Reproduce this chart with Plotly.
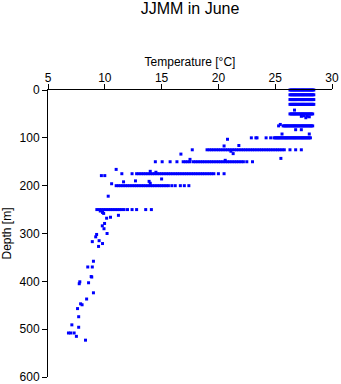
import plotly.graph_objects as go

# ---- data: temperature (deg C) observed at each depth level (m) ----
t_000 = [26.3, 26.4, 26.5, 26.6, 26.7, 26.8, 26.9, 27.0, 27.1, 27.2, 27.3, 27.4,
         27.5, 27.6, 27.7, 27.8, 27.9, 28.0, 28.1, 28.2, 28.3, 28.4]
t_010 = [26.3, 26.4, 26.5, 26.6, 26.7, 26.8, 26.9, 27.0, 27.1, 27.2, 27.3, 27.4,
         27.5, 27.6, 27.7, 27.8, 27.9, 28.0, 28.1, 28.2, 28.3, 28.4]
t_020 = [26.3, 26.4, 26.5, 26.6, 26.7, 26.8, 26.9, 27.0, 27.1, 27.2, 27.3, 27.4,
         27.5, 27.6, 27.7, 27.8, 27.9, 28.0, 28.1, 28.2, 28.3, 28.4]
t_030 = [26.3, 26.4, 26.5, 26.6, 26.7, 26.8, 26.9, 27.0, 27.1, 27.2, 27.3, 27.4,
         27.5, 27.6, 27.7, 27.8, 27.9, 28.0, 28.1, 28.2, 28.3, 28.4]
t_050 = [26.3, 26.4, 26.5, 26.6, 26.7, 26.8, 26.9, 27.0, 27.1, 27.2, 27.3, 27.4,
         27.5, 27.6, 27.7, 27.8, 27.9, 28.0, 28.1, 28.2, 28.3]
t_075 = [25.3, 25.7, 25.8, 25.9, 26.0, 26.1, 26.2, 26.3, 26.4, 26.5, 26.6, 26.7,
         26.8, 26.9, 27.0, 27.1, 27.2, 27.3, 27.4, 27.5, 27.6, 27.7, 27.8, 27.9,
         28.0, 28.1, 28.2, 28.3]
t_100 = [22.9, 23.3, 23.4, 24.2, 24.6, 24.9, 25.0, 25.1, 25.2, 25.3, 25.4, 25.5,
         25.6, 25.7, 25.8, 25.9, 26.0, 26.1, 26.2, 26.3, 26.4, 26.5, 26.6, 26.7,
         26.8, 26.9, 27.0, 27.1, 27.2, 27.3, 27.4, 27.5, 27.6, 27.7, 27.8, 27.9,
         28.0, 28.1]
t_125 = [17.7, 19.0, 19.2, 19.4, 19.6, 19.8, 20.0, 20.2, 20.4, 20.6, 20.8, 21.0,
         21.2, 21.4, 21.6, 21.8, 22.0, 22.2, 22.4, 22.6, 22.8, 23.0, 23.2, 23.4,
         23.6, 23.8, 24.0, 24.2, 24.4, 24.6, 24.8, 25.0, 25.2, 25.4, 25.6, 25.8,
         26.3, 26.8, 27.3]
t_150 = [14.45, 15.05, 15.75, 16.35, 16.9, 17.1, 17.3, 17.5, 17.8, 18.0, 18.2,
         18.4, 18.6, 18.8, 19.0, 19.2, 19.4, 19.6, 19.8, 20.0, 20.2, 20.4, 20.6,
         20.8, 21.0, 21.2, 21.4, 21.6, 21.8, 22.0, 22.2, 22.5, 23.0]
t_175 = [11.5, 12.4, 12.8, 13.0, 13.2, 13.4, 13.6, 13.8, 14.0, 14.2, 14.4, 14.6,
         14.8, 15.0, 15.2, 15.4, 15.6, 15.8, 16.0, 16.2, 16.4, 16.6, 16.8, 17.0,
         17.2, 17.4, 17.6, 17.8, 18.0, 18.2, 18.4, 18.6, 18.8, 19.0, 19.2, 19.4,
         19.6, 20.0, 20.5]
t_200 = [11.0, 11.2, 11.4, 11.6, 11.8, 12.0, 12.2, 12.4, 12.6, 12.8, 13.0, 13.2,
         13.4, 13.6, 13.8, 14.0, 14.2, 14.4, 14.6, 14.8, 15.0, 15.2, 15.4, 15.6,
         15.9, 16.2, 16.65, 17.0, 17.4]
t_250 = [9.3, 9.5, 9.7, 9.9, 10.1, 10.3, 10.5, 10.7, 10.9, 11.1, 11.3, 11.5,
         11.7, 12.0, 12.4, 12.8, 13.6, 14.1]

# scattered single observations (depth m, temperature deg C)
scatter_depth = [42, 54, 55, 55, 56, 58, 72, 83, 83, 92, 92, 103, 116, 117,
                 128, 133, 134, 143, 145, 147, 166, 170, 172, 179, 179, 186,
                 190, 191, 192, 195, 196, 222, 253, 256, 258, 262, 266, 268,
                 279, 284, 290, 300, 302, 307, 315, 317, 321, 327, 358, 370,
                 370, 390, 391, 401, 403, 405, 424, 437, 447, 449, 457, 474,
                 491, 496, 508, 508, 508, 515, 523]
scatter_temp = [26.7, 27.5, 27.3, 27.8, 28.0, 27.7, 25.45, 26.8, 27.3, 25.6,
                28.0, 20.8, 21.8, 20.5, 21.1, 21.3, 16.7, 25.5, 17.5, 20.6,
                11.0, 14.0, 14.5, 9.7, 10.0, 15.0, 12.7, 13.9, 11.65, 14.0,
                10.6, 10.3, 9.6, 9.8, 9.9, 11.2, 10.5, 10.16, 9.98, 9.78, 9.93,
                10.2, 9.28, 9.2, 9.5, 8.9, 9.8, 9.45, 9.0, 8.5, 8.9, 8.8, 8.85,
                7.8, 8.57, 7.75, 9.0, 8.4, 7.87, 8.0, 7.6, 7.7, 7.1, 7.7, 6.8,
                7.0, 7.3, 7.5, 8.3]

levels = [(0, t_000), (10, t_010), (20, t_020), (30, t_030), (50, t_050),
          (75, t_075), (100, t_100), (125, t_125), (150, t_150),
          (175, t_175), (200, t_200), (250, t_250)]

x_ticks = [5, 10, 15, 20, 25, 30]
y_ticks = [0, 100, 200, 300, 400, 500, 600]

temps, depths = [], []
for d, ts in levels:
    temps += ts
    depths += [d] * len(ts)
temps += scatter_temp
depths += scatter_depth

FONT = "Liberation Sans, Arial, Helvetica, sans-serif"

fig = go.Figure(go.Scatter(
    x=temps, y=depths, mode="markers",
    marker=dict(symbol="square", size=3, color="#0000ff", line=dict(width=0)),
    cliponaxis=False, showlegend=False,
))

fig.update_layout(
    width=341, height=384,
    margin=dict(l=48, r=9, t=90, b=7),
    paper_bgcolor="white", plot_bgcolor="white",
    font=dict(family=FONT, size=12, color="black"),
    title=dict(text="JJMM in June", x=0.5, xref="paper", xanchor="center",
               y=0.978, yref="container", yanchor="middle",
               font=dict(family=FONT, size=16, color="black")),
)
fig.update_xaxes(
    side="top", range=[5, 30], tickvals=x_ticks,
    showline=True, linecolor="black", linewidth=1, mirror=False,
    ticks="outside", ticklen=5, tickcolor="black", tickwidth=1,
    showgrid=False, zeroline=False, ticklabelstandoff=-3, automargin=False,
    title=dict(text="Temperature [°C]", font=dict(size=12), standoff=2),
    tickfont=dict(size=12), ticklabeloverflow="allow",
)
fig.update_yaxes(
    range=[600, 0], tickvals=y_ticks,
    showline=True, linecolor="black", linewidth=1, mirror=False,
    ticks="outside", ticklen=5, tickcolor="black", tickwidth=1,
    showgrid=False, zeroline=False, automargin=False,
    title=dict(text="Depth [m]", font=dict(size=12), standoff=6),
    tickfont=dict(size=12), ticklabeloverflow="allow",
)

fig.write_html("out.html")
